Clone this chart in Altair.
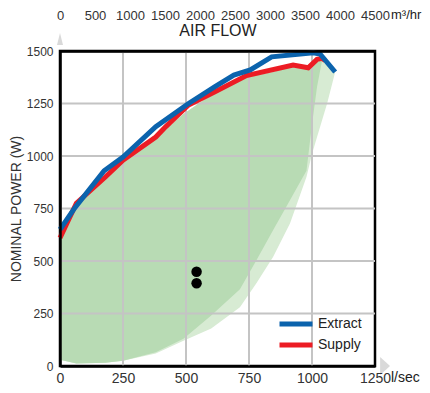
import altair as alt
import pandas as pd

# ---------------- data ----------------
x_ticks = [0, 250, 500, 750, 1000, 1250]
y_ticks = [0, 250, 500, 750, 1000, 1250, 1500]
top_ticks = [0, 500, 1000, 1500, 2000, 2500, 3000, 3500, 4000, 4500]
x_grid = [250, 500, 750, 1000]
y_grid = [250, 500, 750, 1000, 1250]

extract_flow = [0, 60, 175, 250, 380, 510, 615, 690, 755, 840, 1005, 1032, 1092]
extract_power = [650, 755, 930, 995, 1140, 1250, 1330, 1385, 1410, 1472, 1492, 1486, 1400]

supply_flow = [0, 65, 180, 250, 380, 420, 510, 615, 740, 925, 985, 1020, 1040, 1052]
supply_power = [610, 775, 900, 980, 1090, 1140, 1243, 1306, 1383, 1433, 1420, 1460, 1465, 1455]

# operating field (dark) : flow, upper, lower
dark_flow = [0, 65, 180, 250, 380, 490, 600, 714, 780, 846, 913, 978, 1000, 1020, 1040]
dark_top = [605, 770, 890, 975, 1085, 1200, 1290, 1365, 1385, 1400, 1425, 1420, 1425, 1450, 1455]
dark_bottom = [30, 12, 15, 25, 65, 130, 240, 365, 505, 648, 790, 930, 1150, 1330, 1455]

# extended field (light)
light_flow = [0, 65, 180, 250, 380, 490, 600, 714, 780, 846, 913, 978, 1000, 1020, 1040, 1060, 1092]
light_top = [605, 770, 890, 975, 1085, 1200, 1290, 1365, 1385, 1400, 1425, 1420, 1425, 1450, 1460, 1460, 1400]
light_bottom = [30, 12, 15, 25, 60, 120, 178, 280, 395, 520, 680, 900, 1010, 1090, 1170, 1250, 1400]

dots_flow = [542, 542]
dots_power = [449, 394]

BLUE = "#0b63ad"
RED = "#ec1c24"
DARK_G = "#b8dbb4"
LIGHT_G = "#d7ebd3"
GRID = "#c4c4c4"
SANS = "Liberation Sans, Arial, sans-serif"

# ---------------- scales / axes ----------------
xs = alt.Scale(domain=[0, 1250], nice=False, zero=False)
ys = alt.Scale(domain=[0, 1500], nice=False, zero=False)

x_axis = alt.Axis(values=x_ticks, format="d", grid=False, ticks=False, tickSize=0, domain=True,
                  domainColor="black", domainWidth=2.5, labelFont=SANS, labelFontSize=14,
                  labelColor="#333333", labelPadding=5, labelFlush=False, labelOverlap=False,
                  title=None, zindex=1)
y_axis = alt.Axis(values=y_ticks, format="d", grid=False, ticks=False, tickSize=0, domain=True,
                  domainColor="black", domainWidth=2.5, labelFont=SANS, labelFontSize=12,
                  labelColor="#333333", labelPadding=7, labelOverlap=False,
                  title="NOMINAL POWER (W)", titleFont=SANS, titleFontSize=14,
                  titleFontWeight="normal", titleColor="#333333", titlePadding=3, zindex=1)

X = alt.X("flow:Q", scale=xs, axis=x_axis)
Y = alt.Y("power:Q", scale=ys, axis=y_axis)

light_df = pd.DataFrame({"flow": light_flow, "power": light_top, "low": light_bottom})
dark_df = pd.DataFrame({"flow": dark_flow, "power": dark_top, "low": dark_bottom})

light = alt.Chart(light_df).mark_area(color=LIGHT_G, opacity=1).encode(
    x=X, y=Y, y2="low:Q")
dark = alt.Chart(dark_df).mark_area(color=DARK_G, opacity=1).encode(
    x=X, y=Y, y2="low:Q")

vgrid = alt.Chart(pd.DataFrame({"flow": x_grid})).mark_rule(color=GRID, strokeWidth=2).encode(x=X)
hgrid = alt.Chart(pd.DataFrame({"power": y_grid})).mark_rule(color=GRID, strokeWidth=2).encode(y=Y)

color = alt.Color("series:N",
                  scale=alt.Scale(domain=["Extract", "Supply"], range=[BLUE, RED]),
                  legend=alt.Legend(title=None, orient="none", legendX=228, legendY=265,
                                    symbolType="M-3,0H3", symbolSize=121, symbolStrokeWidth=5,
                                    labelFont=SANS, labelFontSize=14, labelColor="#222222",
                                    labelOffset=14, rowPadding=1, padding=0))

sup_df = pd.DataFrame({"flow": supply_flow, "power": supply_power, "series": "Supply"})
ext_df = pd.DataFrame({"flow": extract_flow, "power": extract_power, "series": "Extract"})

sup_line = alt.Chart(sup_df).mark_line(strokeWidth=5).encode(x=X, y=Y, color=color)
ext_line = alt.Chart(ext_df).mark_line(strokeWidth=5).encode(x=X, y=Y, color=color)

dots = alt.Chart(pd.DataFrame({"flow": dots_flow, "power": dots_power})).mark_circle(
    size=110, color="black", opacity=1).encode(x=X, y=Y)

arrow_up = alt.Chart(pd.DataFrame({"flow": [0], "power": [1557]})).mark_point(
    shape="M-0.5,1L0,-1L0.5,1Z", size=144, filled=True, color="#d9d9d9", opacity=1,
    strokeWidth=0).encode(x=X, y=Y)
arrow_right = alt.Chart(pd.DataFrame({"flow": [1290], "power": [0]})).mark_point(
    shape="M-0.55,-1L0.55,0L-0.55,1Z", size=324, filled=True, color="#d9d9d9", opacity=1,
    strokeWidth=0).encode(x=X, y=Y)

unit_bottom = alt.Chart(pd.DataFrame({"flow": [1250], "power": [0], "t": ["l/sec"]})).mark_text(
    align="left", baseline="middle", dx=16, dy=12, font=SANS, fontSize=14, color="#222222"
).encode(x=X, y=Y, text="t:N")

main = alt.layer(light, dark, vgrid, hgrid, sup_line, ext_line, dots,
                 arrow_up, arrow_right, unit_bottom)

top_axis = alt.Axis(orient="top", values=top_ticks, format="d", grid=False, ticks=False,
                    tickSize=0, domain=True, domainColor="black", domainWidth=2.5,
                    labelFont=SANS, labelFontSize=13, labelColor="#333333",
                    labelPadding=36, labelBaseline="middle", labelFlush=False,
                    labelOverlap=False, title="AIR FLOW", titleFont=SANS, titleFontSize=16,
                    titleFontWeight="normal", titleColor="#222222", titleY=-21,
                    titleBaseline="middle", zindex=1)

top = alt.Chart(pd.DataFrame({"q": [4500], "t": ["m³/hr"]})).mark_text(
    align="left", baseline="middle", dx=16, font=SANS, fontSize=13, color="#222222"
).encode(
    x=alt.X("q:Q", scale=alt.Scale(domain=[0, 4500], nice=False, zero=False), axis=top_axis),
    y=alt.value(-36),
    text="t:N",
)

chart = alt.layer(main, top).resolve_scale(x="independent").properties(
    width=315, height=315,
    padding={"left": 52, "top": 43, "right": 47, "bottom": 19},
    autosize=alt.AutoSizeParams(type="none"),
    background="white",
).configure_view(stroke="black", strokeWidth=2.5)

chart.save("out.html", embed_options={"renderer": "svg", "actions": False})
